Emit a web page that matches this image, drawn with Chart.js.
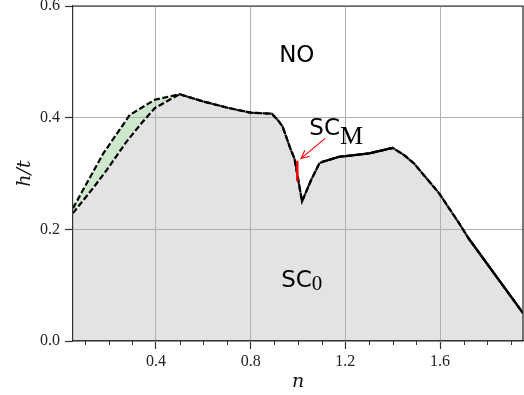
<!DOCTYPE html>
<html><head><meta charset="utf-8">
<script src="https://cdn.jsdelivr.net/npm/chart.js@4/dist/chart.umd.min.js"></script>
<style>html,body{margin:0;padding:0;background:#fff;}canvas{display:block;}</style>
</head><body>
<canvas id="c" width="524" height="395"></canvas>
<script>
// ---- data ----
const nLowerLeft = [0.05, 0.135, 0.192, 0.276, 0.339, 0.395];
const hLowerLeft = [0.229, 0.274, 0.306, 0.357, 0.390, 0.417];
const nUpperLeft = [0.05, 0.178, 0.29, 0.395];
const hUpperLeft = [0.238, 0.336, 0.405, 0.432];
const nShared = [0.50, 0.60, 0.71, 0.80, 0.89, 0.92, 0.935, 0.97, 0.985, 0.999, 1.017, 1.055, 1.09, 1.104, 1.174, 1.20, 1.30, 1.40, 1.448, 1.49, 1.595, 1.68, 1.72, 1.95];
const hShared = [0.442, 0.429, 0.417, 0.409, 0.407, 0.393, 0.384, 0.342, 0.327, 0.294, 0.250, 0.288, 0.318, 0.321, 0.330, 0.331, 0.336, 0.346, 0.333, 0.318, 0.265, 0.211, 0.184, 0.050];
const solidRanges = [[1.104, 1.40], [1.72, 1.95]];
const nRed = [0.997, 0.997];
const hRed = [0.323, 0.286];
const xMajorTicks = [0.4, 0.8, 1.2, 1.6];
const xMinorTicks = [0.1, 0.2, 0.3, 0.5, 0.6, 0.7, 0.9, 1.0, 1.1, 1.3, 1.4, 1.5, 1.7, 1.8, 1.9];
const yTicks = [0.0, 0.2, 0.4, 0.6];
const xRange = [0.05, 1.95];
const yRange = [0, 0.6];

const pts = (xs, ys) => xs.map((x, i) => ({x: x, y: ys[i]}));
const lowerPts = pts(nLowerLeft.concat(nShared), hLowerLeft.concat(hShared));
const upperPts = pts(nUpperLeft.concat(nShared), hUpperLeft.concat(hShared));
const sharedPts = pts(nShared, hShared);
const solidSets = solidRanges.map(r => sharedPts.filter(p => p.x >= r[0] - 1e-9 && p.x <= r[1] + 1e-9));

// annotations in data units
const textLabels = [
  {parts: [{t: 'NO', font: '23px "DejaVu Sans"', dy: 0}], x: 0.995, y: 0.50, align: 'center'},
  {parts: [{t: 'SC', font: '23px "DejaVu Sans"', dy: 0}, {t: 'M', font: '26px "Liberation Serif"', dy: 9}], x: 1.048, y: 0.369, align: 'left'},
  {parts: [{t: 'SC', font: '23px "DejaVu Sans"', dy: 0}, {t: '0', font: '21px "Liberation Serif"', dy: 3.5}], x: 0.929, y: 0.097, align: 'left'}
];
const arrowFrom = {x: 1.115, y: 0.363};
const arrowTo = {x: 1.013, y: 0.327};

const decor = {
  id: 'decor',
  afterDatasetsDraw(chart) {
    const {ctx, scales: {x, y}} = chart;
    ctx.save();
    const x1 = x.getPixelForValue(arrowFrom.x), y1 = y.getPixelForValue(arrowFrom.y);
    const x2 = x.getPixelForValue(arrowTo.x), y2 = y.getPixelForValue(arrowTo.y);
    ctx.strokeStyle = '#ff0000'; ctx.lineWidth = 1.1;
    ctx.beginPath(); ctx.moveTo(x1, y1); ctx.lineTo(x2, y2); ctx.stroke();
    const ang = Math.atan2(y2 - y1, x2 - x1), L = 9, a = 0.45;
    ctx.beginPath();
    ctx.moveTo(x2 - L * Math.cos(ang - a), y2 - L * Math.sin(ang - a));
    ctx.lineTo(x2, y2);
    ctx.lineTo(x2 - L * Math.cos(ang + a), y2 - L * Math.sin(ang + a));
    ctx.stroke();
    ctx.fillStyle = '#000'; ctx.textBaseline = 'alphabetic';
    textLabels.forEach(lb => {
      let px = x.getPixelForValue(lb.x); const py = y.getPixelForValue(lb.y);
      let total = 0;
      lb.parts.forEach(p => { ctx.font = p.font; total += ctx.measureText(p.t).width; });
      if (lb.align === 'center') px -= total / 2;
      ctx.textAlign = 'left';
      lb.parts.forEach(p => { ctx.font = p.font; ctx.fillText(p.t, px, py + p.dy); px += ctx.measureText(p.t).width; });
    });
    ctx.restore();
  },
  afterDraw(chart) {
    const {ctx, chartArea: a, scales: {x}} = chart;
    ctx.save();
    ctx.strokeStyle = '#222'; ctx.lineWidth = 1.2;
    ctx.beginPath();
    ctx.moveTo(a.left, a.top); ctx.lineTo(a.right, a.top); ctx.lineTo(a.right, a.bottom);
    ctx.stroke();
    ctx.strokeStyle = '#333'; ctx.lineWidth = 1;
    xMinorTicks.forEach(v => {
      const px = Math.round(x.getPixelForValue(v)) + 0.5;
      ctx.beginPath(); ctx.moveTo(px, a.bottom); ctx.lineTo(px, a.bottom + 4); ctx.stroke();
    });
    ctx.restore();
  }
};

const tickFont = {family: 'Liberation Serif', size: 16};
const titleFont = {family: 'DejaVu Serif', style: 'italic', size: 19};

new Chart(document.getElementById('c'), {
  type: 'line',
  data: {
    datasets: [
      {data: pts(nRed, hRed), borderColor: '#ff0000', borderWidth: 2.4, fill: false, pointRadius: 0},
      {data: solidSets[0], borderColor: '#000', borderWidth: 2.2, fill: false, pointRadius: 0},
      {data: solidSets[1], borderColor: '#000', borderWidth: 2.2, fill: false, pointRadius: 0},
      {data: upperPts, borderColor: '#000', borderWidth: 2.2, borderDash: [6, 2.6], fill: 4, backgroundColor: 'rgb(205,232,205)', pointRadius: 0},
      {data: lowerPts, borderColor: '#000', borderWidth: 2.2, borderDash: [6, 2.6], fill: 'origin', backgroundColor: '#e3e3e3', pointRadius: 0}
    ]
  },
  options: {
    responsive: false, animation: false, devicePixelRatio: 1,
    layout: {padding: {left: 0, right: 1, top: 6, bottom: 0}},
    elements: {line: {tension: 0}, point: {radius: 0}},
    plugins: {legend: {display: false}, tooltip: {enabled: false}, filler: {drawTime: 'beforeDraw'}},
    scales: {
      x: {
        type: 'linear', min: xRange[0], max: xRange[1],
        afterBuildTicks: s => { s.ticks = xMajorTicks.map(v => ({value: v})); },
        afterFit: s => { s.height = 54; s.paddingLeft = 0; s.paddingRight = 0; },
        ticks: {callback: v => Number(v).toFixed(1), font: tickFont, color: '#222', padding: 3, maxRotation: 0, autoSkip: false},
        grid: {color: '#b0b0b0', lineWidth: 1, tickLength: 8, tickColor: '#333', tickWidth: 1.2},
        border: {display: true, color: '#333', width: 1.2},
        title: {display: true, text: 'n', font: titleFont, color: '#111', padding: {top: 0, bottom: 2}}
      },
      y: {
        type: 'linear', min: yRange[0], max: yRange[1],
        afterBuildTicks: s => { s.ticks = yTicks.map(v => ({value: v})); },
        afterFit: s => { s.width = 73; s.paddingTop = 0; s.paddingBottom = 0; },
        ticks: {callback: v => Number(v).toFixed(1), font: tickFont, color: '#222', padding: 5},
        grid: {color: '#b0b0b0', lineWidth: 1, tickLength: 8, tickColor: '#333', tickWidth: 1.2},
        border: {display: true, color: '#333', width: 1.2},
        title: {display: true, text: 'h/t', font: titleFont, color: '#111', padding: {top: 14, bottom: 0}}
      }
    }
  },
  plugins: [decor]
});
</script>
</body></html>
